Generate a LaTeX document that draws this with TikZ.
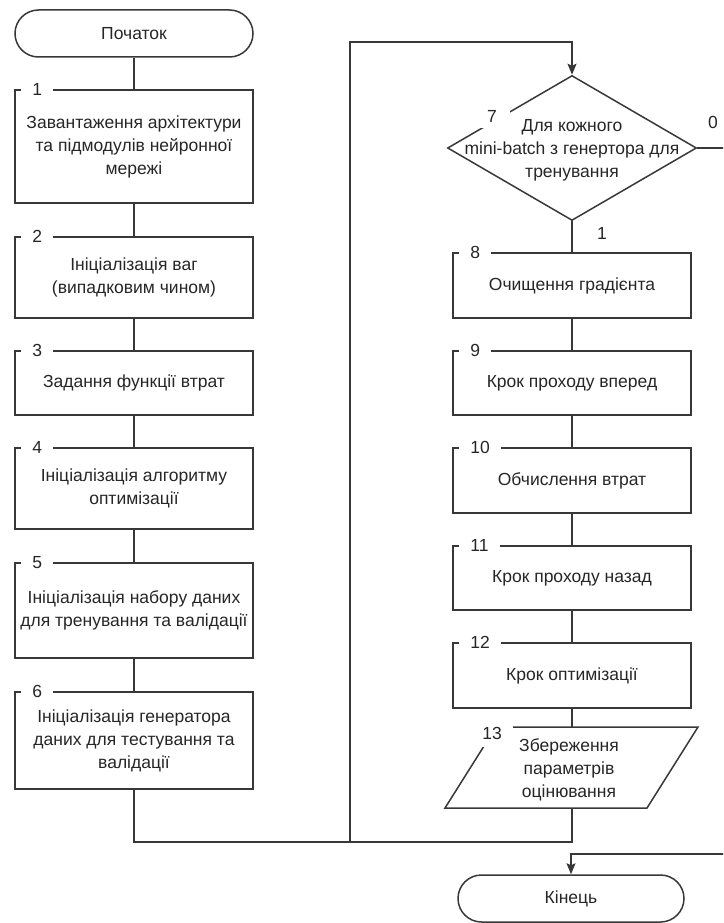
\documentclass[tikz,border=0pt]{standalone}
\usepackage{fontspec}
\setmainfont{Liberation Sans}
\usetikzlibrary{shapes.geometric,arrows.meta}
\definecolor{linegray}{HTML}{383838}
\definecolor{txtcol}{HTML}{262626}
\newcommand\dfont{\fontsize{17.5}{23}\selectfont}
\begin{document}
\begin{tikzpicture}[x=1pt,y=-1pt,
  wire/.style={draw=linegray, line width=1.5pt},
  arr/.style={wire, -{Stealth[length=11pt,width=9pt,inset=2pt]}},
  procbox/.style={draw=linegray, line width=1.5pt, rectangle, minimum width=238pt,
    inner sep=0pt, align=center, font=\dfont, text=txtcol},
  term/.style={procbox, rounded corners=23.5pt, minimum height=47pt},
  decision/.style={draw=linegray, line width=1.5pt, diamond, inner sep=0pt,
    minimum width=249pt, minimum height=145pt},
  txt/.style={align=center, font=\dfont, text=txtcol, inner sep=0pt},
  numlbl/.style={fill=white, inner xsep=11pt, inner ysep=2pt, anchor=west,
    font=\dfont, text=txtcol, xshift=7pt}]

\useasboundingbox (0,0) rectangle (723,923);
\clip (0,0) rectangle (723,923);

% left column
\node[term] (start) at (134,33.5) {Початок};
\node[procbox, minimum height=113pt] (b1) at (134,146.5)
  {Завантаження архітектури\\та підмодулів нейронної\\мережі};
\node[procbox, minimum height=81pt] (b2) at (134,277.5)
  {Ініціалізація ваг\\(випадковим чином)};
\node[procbox, minimum height=64pt] (b3) at (134,383)
  {Задання функції втрат};
\node[procbox, minimum height=81pt] (b4) at (134,488.5)
  {Ініціалізація алгоритму\\оптимізації};
\node[procbox, minimum height=95pt] (b5) at (134,610.5)
  {Ініціалізація набору даних\\для тренування та валідації};
\node[procbox, minimum height=97pt] (b6) at (134,740.5)
  {Ініціалізація генератора\\даних для тестування та\\валідації};

% right column
\node[decision] (d7) at (572,148) {};
\node[txt] (t7) at (572,150) {Для кожного\\mini-batch з генертора для\\тренування};
\node[procbox, minimum height=65pt] (b8) at (572,285.5) {Очищення градієнта};
\node[procbox, minimum height=64pt] (b9) at (572,383) {Крок проходу вперед};
\node[procbox, minimum height=65pt] (b10) at (572,480.5) {Обчислення втрат};
\node[procbox, minimum height=64pt] (b11) at (572,578) {Крок проходу назад};
\node[procbox, minimum height=65pt] (b12) at (572,675.5) {Крок оптимізації};

% data output (parallelogram)
\coordinate (p13n) at (572,727);
\coordinate (p13s) at (572,808);
\draw[wire] (445,808) -- (496,727) -- (698,727) -- (647,808) -- cycle;
\node[txt] (t13) at (569,770) {Збереження\\параметрів\\оцінювання};

\node[term, minimum width=226pt] (end) at (571,898.5) {Кінець};

% connectors
\draw[wire] (start) -- (b1);
\draw[wire] (b1) -- (b2);
\draw[wire] (b2) -- (b3);
\draw[wire] (b3) -- (b4);
\draw[wire] (b4) -- (b5);
\draw[wire] (b5) -- (b6);
\draw[wire] (d7.south) -- (b8.north);
\draw[wire] (b8) -- (b9);
\draw[wire] (b9) -- (b10);
\draw[wire] (b10) -- (b11);
\draw[wire] (b11) -- (b12);
\draw[wire] (b12.south) -- (p13n);

\coordinate (merge) at (572,842);
\coordinate (loopB) at (350,842);
\coordinate (loopT) at (350,42);
\coordinate (exitT) at (740,148);
\coordinate (exitB) at (740,854);
\draw[wire] (b6.south) |- (merge);
\draw[arr] (p13s) -- (merge) -- (loopB) -- (loopT) -| (d7.north);
\draw[arr] (d7.east) -- (exitT) -- (exitB) -| (end.north);

% branch labels
\node[txt] (lbl0) at (713,122) {0};
\node[txt] (lbl1) at (602,233) {1};

% step numbers
\node[numlbl] (n1) at (b1.north west) {1};
\node[numlbl] (n2) at (b2.north west) {2};
\node[numlbl] (n3) at (b3.north west) {3};
\node[numlbl] (n4) at (b4.north west) {4};
\node[numlbl] (n5) at (b5.north west) {5};
\node[numlbl] (n6) at (b6.north west) {6};
\node[numlbl] (n8) at (b8.north west) {8};
\node[numlbl] (n9) at (b9.north west) {9};
\node[numlbl] (n10) at (b10.north west) {10};
\node[numlbl] (n11) at (b11.north west) {11};
\node[numlbl] (n12) at (b12.north west) {12};
\node[fill=white, inner xsep=13pt, inner ysep=6pt, font=\dfont, text=txtcol] (n7) at (492,116) {7};
\node[fill=white, inner xsep=11pt, inner ysep=8pt, font=\dfont, text=txtcol] (n13) at (492,733) {13};
\end{tikzpicture}
\end{document}
